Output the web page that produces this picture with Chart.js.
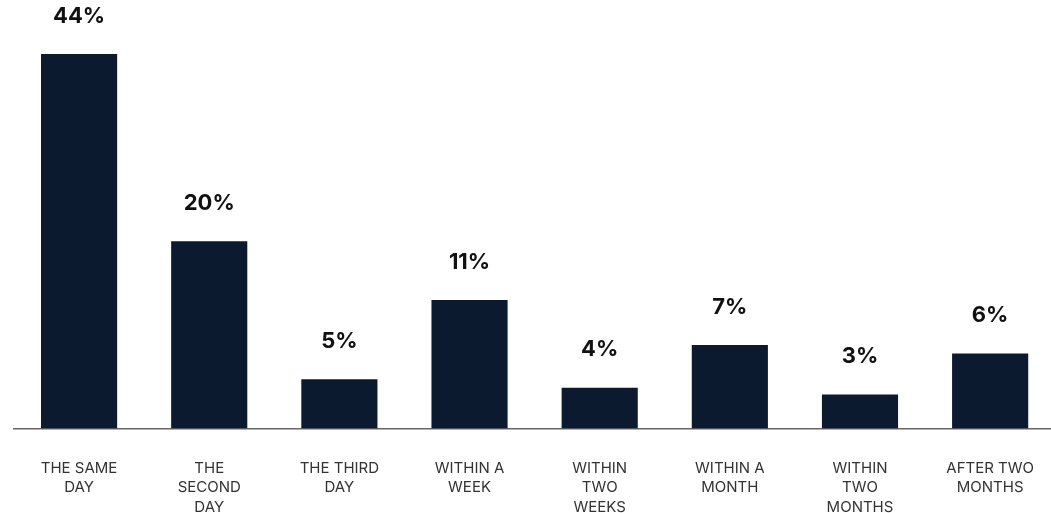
<!DOCTYPE html>
<html>
<head>
<meta charset="utf-8">
<script src="https://cdn.jsdelivr.net/npm/chart.js@4"></script>
<style>
  html, body { margin: 0; padding: 0; background: #fff; overflow: hidden; }
  #wrap { width: 1064px; height: 547px; }
  canvas { display: block; }
</style>
</head>
<body>
<div id="wrap"><canvas id="timingChart" width="1064" height="547" style="width:1064px;height:547px"></canvas></div>
<script>
// categories (multi-line, as printed under each bar)
const categories = [
    ['THE SAME', 'DAY'],
    ['THE', 'SECOND', 'DAY'],
    ['THE THIRD', 'DAY'],
    ['WITHIN A', 'WEEK'],
    ['WITHIN', 'TWO', 'WEEKS'],
    ['WITHIN A', 'MONTH'],
    ['WITHIN', 'TWO', 'MONTHS'],
    ['AFTER TWO', 'MONTHS']
];
// printed shares
const shares = [44, 20, 5, 11, 4, 7, 3, 6];
// bar lengths as drawn in the source graphic (same scale as the 44% bar)
const barLevels = [44, 22, 5.8, 15.1, 4.8, 9.8, 4.0, 8.8];

const shareLabels = {
    id: 'shareLabels',
    afterDatasetsDraw(chart) {
        const ctx = chart.ctx;
        const meta = chart.getDatasetMeta(0);
        ctx.save();
        ctx.font = '700 22px Inter';
        ctx.fillStyle = '#111111';
        ctx.textAlign = 'center';
        ctx.textBaseline = 'middle';
        meta.data.forEach(function (bar, i) {
            ctx.fillText(shares[i] + '%', bar.x, bar.y - 38);
        });
        ctx.restore();
    }
};

const ctxTiming = document.getElementById('timingChart').getContext('2d');
const timingChart = new Chart(ctxTiming, {
    type: 'bar',
    data: {
        labels: categories,
        datasets: [{
            label: 'Share',
            data: barLevels,
            backgroundColor: '#0c1a30',
            categoryPercentage: 1,
            barPercentage: 0.585
        }]
    },
    options: {
        responsive: false,
        animation: false,
        layout: {
            padding: { left: 14, right: 0, top: 3, bottom: 0 }
        },
        scales: {
            x: {
                grid: {
                    display: false,
                    drawTicks: false
                },
                border: {
                    display: true,
                    color: '#666666',
                    width: 1.5
                },
                ticks: {
                    color: '#333333',
                    padding: 30,
                    maxRotation: 0,
                    autoSkip: false,
                    font: { family: 'Inter', size: 15, lineHeight: 1.3 }
                }
            },
            y: {
                display: false,
                min: 0,
                max: 50
            }
        },
        plugins: {
            legend: { display: false },
            tooltip: { enabled: false }
        }
    },
    plugins: [shareLabels]
});
</script>
</body>
</html>
